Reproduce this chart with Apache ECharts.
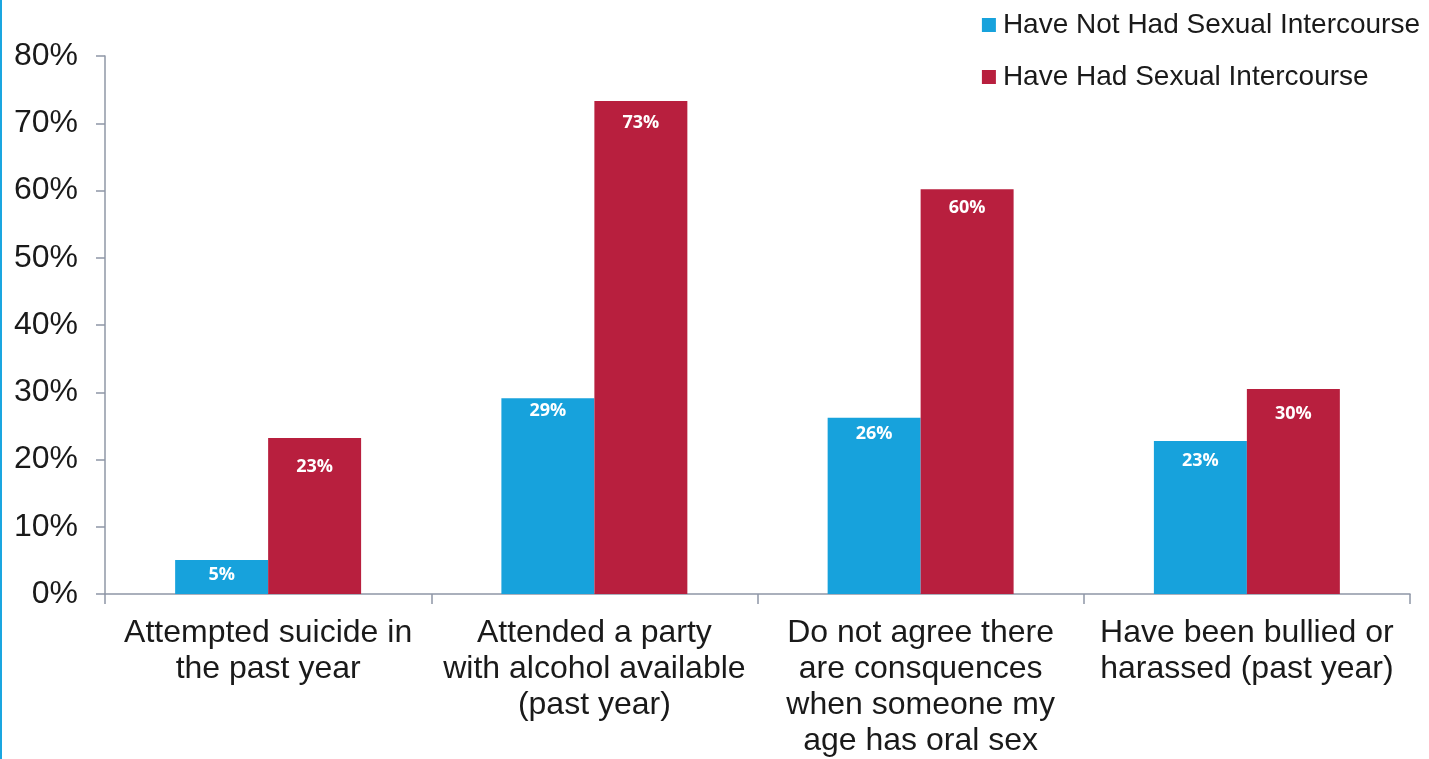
<!DOCTYPE html>
<html>
<head>
<meta charset="utf-8">
<script src="https://cdn.jsdelivr.net/npm/echarts@6/dist/echarts.min.js"></script>
<style>
  html, body { margin: 0; padding: 0; background: #fff; }
  #chart { width: 1429px; height: 759px; }
</style>
</head>
<body>
<div id="chart"></div>
<script>
// categories and values
var categories = [
  "Attempted suicide in\nthe past year",
  "Attended a party\nwith alcohol available\n(past year)",
  "Do not agree there\nare consquences\nwhen someone my\nage has oral sex",
  "Have been bullied or\nharassed (past year)"
];
var notHad = [5.05, 29.1, 26.2, 22.75];
var had = [23.2, 73.3, 60.2, 30.5];
var notHadLabels = ["5%", "29%", "26%", "23%"];
var hadLabels = ["23%", "73%", "60%", "30%"];

var chartDom = document.getElementById("chart");
var myChart = echarts.init(chartDom);
var option;

var axisColor = "#8f97a6";

// how far each value label sits below its bar top (px), as in the original slide
var notHadDrop = [6, 4, 7, 11];
var hadDrop = [20, 13, 10, 16];

function buildData(values, drops) {
  return values.map(function (v, i) {
    return { value: v, label: { distance: drops[i] } };
  });
}

function labelStyle(texts) {
  return {
    show: true,
    position: "insideTop",
    distance: 4,
    color: "#fff",
    fontFamily: "Open Sans",
    fontWeight: "bold",
    fontSize: 18,
    formatter: function (p) {
      return texts[p.dataIndex];
    }
  };
}

option = {
  animation: false,
  backgroundColor: "#fff",
  grid: { left: 105, right: 19, top: 56, bottom: 165 },
  legend: {
    orient: "vertical",
    right: 4,
    top: 6,
    itemWidth: 14,
    itemHeight: 14,
    itemGap: 24,
    icon: "rect",
    textStyle: { fontFamily: "Liberation Sans", fontSize: 28, color: "#1a1a1a", padding: [0, 0, 0, 2] },
    data: ["Have Not Had Sexual Intercourse", "Have Had Sexual Intercourse"]
  },
  graphic: [
    { type: "rect", left: 0, top: 0, shape: { width: 2, height: 759 }, style: { fill: "#1aa6e0" } }
  ],
  xAxis: {
    type: "category",
    data: categories,
    axisLine: { lineStyle: { color: axisColor, width: 1.5 } },
    axisTick: { show: true, length: 10, lineStyle: { color: axisColor, width: 1.5 } },
    axisLabel: {
      fontFamily: "Liberation Sans",
      fontSize: 32,
      lineHeight: 36,
      color: "#1a1a1a",
      margin: 21,
      interval: 0
    }
  },
  yAxis: {
    type: "value",
    min: 0,
    max: 80,
    interval: 10,
    splitLine: { show: false },
    axisLine: { show: true, lineStyle: { color: axisColor, width: 1.5 } },
    axisTick: { show: true, length: 9, lineStyle: { color: axisColor, width: 1.5 } },
    axisLabel: {
      fontFamily: "Liberation Sans",
      fontSize: 32,
      color: "#1a1a1a",
      margin: 27,
      formatter: "{value}%"
    }
  },
  series: [
    {
      name: "Have Not Had Sexual Intercourse",
      type: "bar",
      data: buildData(notHad, notHadDrop),
      barGap: "0%",
      barCategoryGap: "43%",
      itemStyle: { color: "#17a2dc" },
      label: labelStyle(notHadLabels)
    },
    {
      name: "Have Had Sexual Intercourse",
      type: "bar",
      data: buildData(had, hadDrop),
      itemStyle: { color: "#b81f3e" },
      label: labelStyle(hadLabels)
    }
  ]
};

option && myChart.setOption(option);
</script>
</body>
</html>
